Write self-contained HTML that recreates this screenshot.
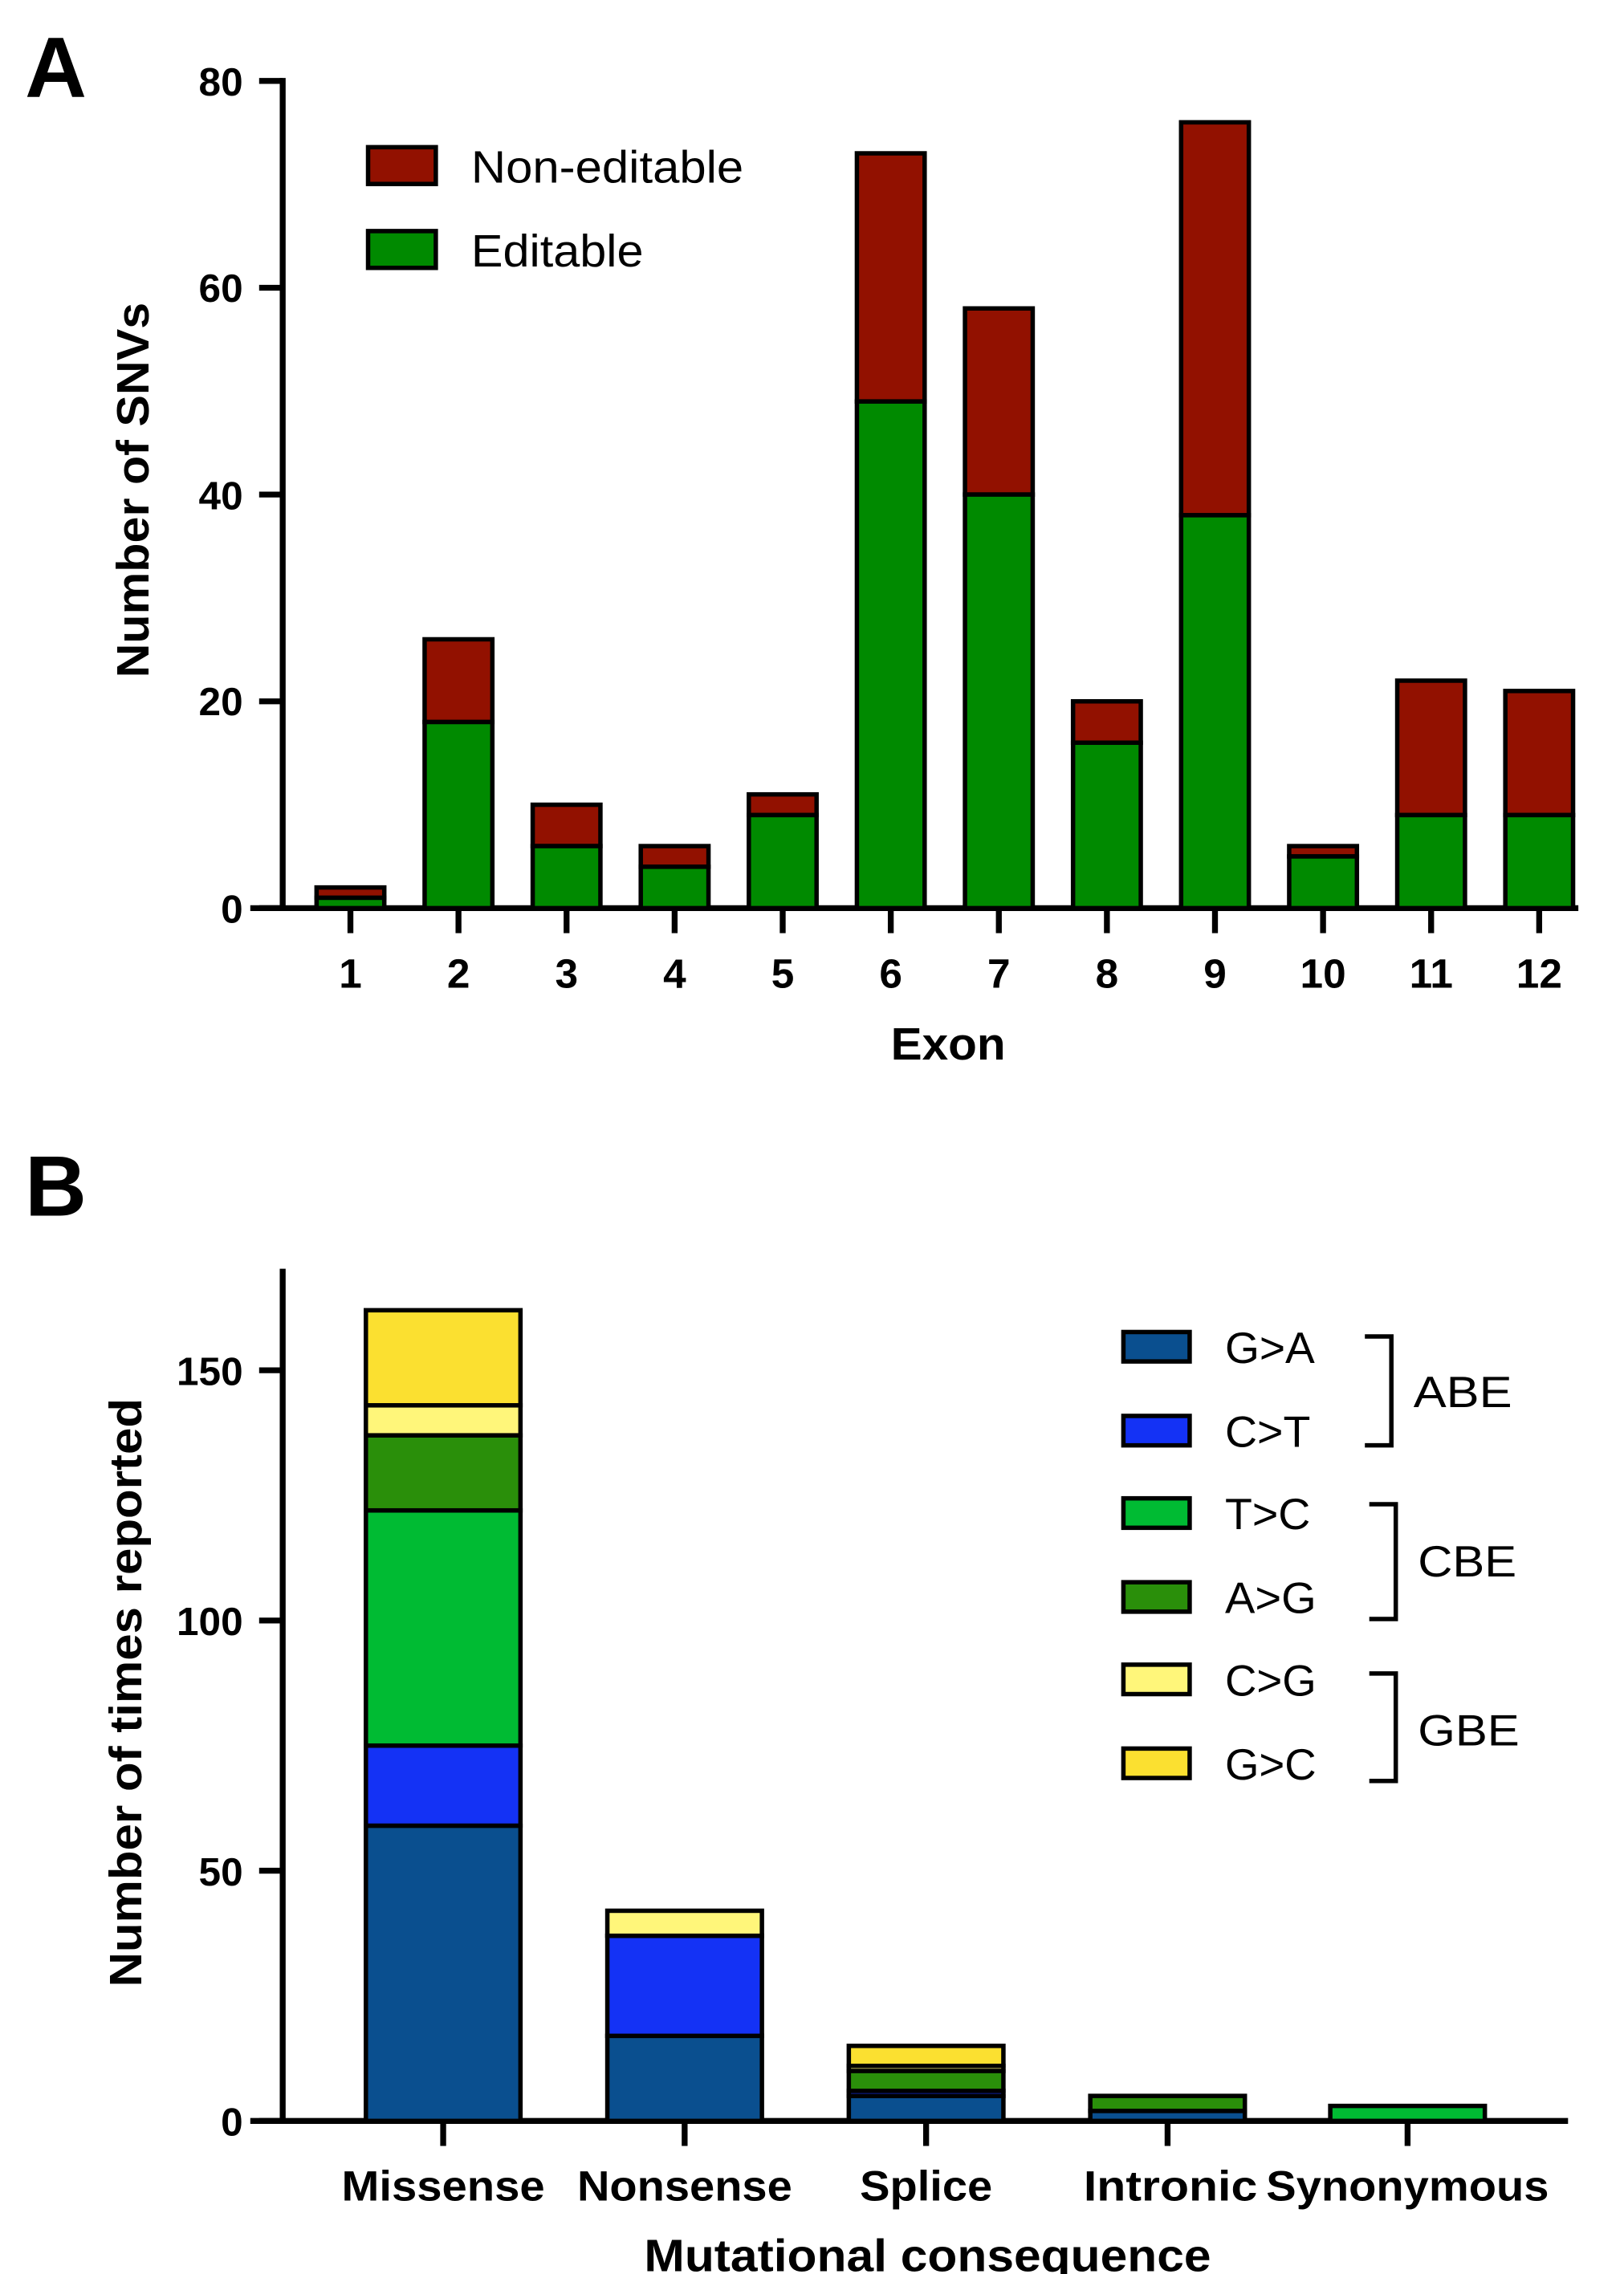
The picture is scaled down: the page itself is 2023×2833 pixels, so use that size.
<!DOCTYPE html>
<html><head><style>html,body{margin:0;padding:0;background:#fff}svg{display:block}</style></head>
<body>
<svg width="2023" height="2833" viewBox="0 0 1103 1545" preserveAspectRatio="none" xmlns="http://www.w3.org/2000/svg" font-family="Liberation Sans, Arial, sans-serif">
<rect width="1103" height="1545" fill="#fff"/>
<!-- Panel A -->
<text x="17" y="66" font-size="58" font-weight="bold">A</text>
<g stroke="#000" stroke-width="4" fill="none">
<line x1="192" y1="53" x2="192" y2="619"/>
<line x1="170" y1="617" x2="1072" y2="617"/>
<line x1="176" y1="55" x2="192" y2="55"/><line x1="176" y1="195.5" x2="192" y2="195.5"/><line x1="176" y1="336" x2="192" y2="336"/><line x1="176" y1="476.5" x2="192" y2="476.5"/><line x1="176" y1="617" x2="192" y2="617"/>
</g>
<g font-size="27" font-weight="bold" text-anchor="end">
<text x="165" y="65">80</text><text x="165" y="205">60</text><text x="165" y="346">40</text><text x="165" y="486">20</text><text x="165" y="627">0</text>
</g>
<text transform="translate(101,333) rotate(-90)" font-size="31" font-weight="bold" text-anchor="middle" textLength="255" lengthAdjust="spacingAndGlyphs">Number of SNVs</text>
<text x="644" y="720" font-size="31" font-weight="bold" text-anchor="middle" textLength="78" lengthAdjust="spacingAndGlyphs">Exon</text>
<g id="barsA" stroke="#000" stroke-width="3"></g>
<g id="ticksA" stroke="#000" stroke-width="4"></g>
<g id="labA" font-size="28" font-weight="bold" text-anchor="middle"></g>
<rect x="250" y="100" width="46" height="25" fill="#921100" stroke="#000" stroke-width="3"/>
<rect x="250" y="157" width="46" height="25" fill="#008a00" stroke="#000" stroke-width="3"/>
<text x="320" y="124" font-size="31" textLength="185" lengthAdjust="spacingAndGlyphs">Non-editable</text>
<text x="320" y="181" font-size="31" textLength="117" lengthAdjust="spacingAndGlyphs">Editable</text>
<!-- Panel B -->
<text x="17" y="826" font-size="58" font-weight="bold">B</text>
<g stroke="#000" stroke-width="4" fill="none">
<line x1="192" y1="862" x2="192" y2="1443"/>
<line x1="170" y1="1441" x2="1065" y2="1441"/>
<line x1="176" y1="931" x2="192" y2="931"/><line x1="176" y1="1101" x2="192" y2="1101"/><line x1="176" y1="1271" x2="192" y2="1271"/><line x1="176" y1="1441" x2="192" y2="1441"/>
</g>
<g font-size="27" font-weight="bold" text-anchor="end">
<text x="165" y="941">150</text><text x="165" y="1111">100</text><text x="165" y="1281">50</text><text x="165" y="1451">0</text>
</g>
<text transform="translate(96,1150) rotate(-90)" font-size="31" font-weight="bold" text-anchor="middle" textLength="400" lengthAdjust="spacingAndGlyphs">Number of times reported</text>
<text x="630" y="1543" font-size="31" font-weight="bold" text-anchor="middle" textLength="385" lengthAdjust="spacingAndGlyphs">Mutational consequence</text>
<g id="barsB" stroke="#000" stroke-width="3"></g>
<g id="ticksB" stroke="#000" stroke-width="4"></g>
<g font-size="29" font-weight="bold" text-anchor="middle">
<text x="301" y="1495" textLength="138" lengthAdjust="spacingAndGlyphs">Missense</text><text x="465" y="1495" textLength="146" lengthAdjust="spacingAndGlyphs">Nonsense</text><text x="629" y="1495" textLength="90" lengthAdjust="spacingAndGlyphs">Splice</text><text x="795" y="1495" textLength="118" lengthAdjust="spacingAndGlyphs">Intronic</text><text x="956" y="1495" textLength="192" lengthAdjust="spacingAndGlyphs">Synonymous</text>
</g>
<g stroke="#000" stroke-width="3">
<rect x="763" y="905" width="45" height="20" fill="#0a4f8f"/>
<rect x="763" y="962" width="45" height="20" fill="#1432f5"/>
<rect x="763" y="1018" width="45" height="20" fill="#00bb33"/>
<rect x="763" y="1075" width="45" height="20" fill="#2a8f0a"/>
<rect x="763" y="1131" width="45" height="20" fill="#fff67a"/>
<rect x="763" y="1188" width="45" height="20" fill="#fbe030"/>
</g>
<g font-size="30">
<text x="832" y="926" textLength="61" lengthAdjust="spacingAndGlyphs">G&gt;A</text><text x="832" y="983" textLength="58" lengthAdjust="spacingAndGlyphs">C&gt;T</text><text x="832" y="1039" textLength="58" lengthAdjust="spacingAndGlyphs">T&gt;C</text><text x="832" y="1096" textLength="62" lengthAdjust="spacingAndGlyphs">A&gt;G</text><text x="832" y="1152" textLength="62" lengthAdjust="spacingAndGlyphs">C&gt;G</text><text x="832" y="1209" textLength="62" lengthAdjust="spacingAndGlyphs">G&gt;C</text>
<text x="960" y="956" textLength="67" lengthAdjust="spacingAndGlyphs">ABE</text><text x="963" y="1071" textLength="67" lengthAdjust="spacingAndGlyphs">CBE</text><text x="963" y="1186" textLength="69" lengthAdjust="spacingAndGlyphs">GBE</text>
</g>
<g stroke="#000" stroke-width="3" fill="none">
<polyline points="927,908 945,908 945,982 927,982"/>
<polyline points="930,1022 948,1022 948,1100 930,1100"/>
<polyline points="930,1137 948,1137 948,1210 930,1210"/>
</g>
</svg>
<script>
var NS="http://www.w3.org/2000/svg";
function el(p,t,a){var e=document.createElementNS(NS,t);for(var k in a)e.setAttribute(k,a[k]);p.appendChild(e);return e;}
var ed=[1,18,6,4,9,49,40,16,38,5,9,9],tot=[2,26,10,6,11,73,58,20,76,6,22,21];
var bA=document.getElementById("barsA"),tA=document.getElementById("ticksA"),lA=document.getElementById("labA");
for(var i=0;i<12;i++){var cx=238+i*73.4,w=46,s=7.025,y0=617;
el(bA,"rect",{x:cx-w/2,y:y0-tot[i]*s,width:w,height:(tot[i]-ed[i])*s,fill:"#921100"});
el(bA,"rect",{x:cx-w/2,y:y0-ed[i]*s,width:w,height:ed[i]*s,fill:"#008a00"});
el(tA,"line",{x1:cx,y1:617,x2:cx,y2:634});
var t=el(lA,"text",{x:cx,y:671});t.textContent=i+1;}
var cols=["#0a4f8f","#1432f5","#00bb33","#2a8f0a","#fff67a","#fbe030"];
var data=[[59,16,47,15,6,19],[17,20,0,0,5,0],[5,1,0,4,1,4],[2,0,0,3,0,0],[0,0,3,0,0,0]];
var cxs=[301,465,629,793,956],bB=document.getElementById("barsB"),tB=document.getElementById("ticksB");
for(var j=0;j<5;j++){var acc=0,s=3.4,w=105;
for(var k=0;k<6;k++){var v=data[j][k];if(!v)continue;
el(bB,"rect",{x:cxs[j]-w/2,y:1441-(acc+v)*s,width:w,height:v*s,fill:cols[k]});acc+=v;}
el(tB,"line",{x1:cxs[j],y1:1441,x2:cxs[j],y2:1458});}
</script>
</body></html>
